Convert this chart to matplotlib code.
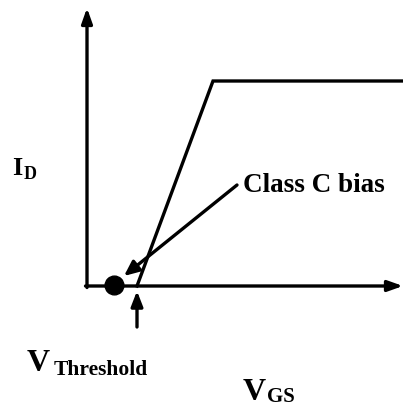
import matplotlib
matplotlib.use("Agg")
import matplotlib.pyplot as plt

# Data (diagram units: origin at axes corner)
vgs = [50, 126, 316]          # transfer curve V_GS points
i_d = [0, 205, 205]           # transfer curve I_D points
bias_point = (27, 1)          # class C bias dot
label_class_c = "Class C bias"
label_id = ("I", "D")
label_vth = ("V", "Threshold")
label_vgs = ("V", "GS")

fig = plt.figure(figsize=(4.03, 4.11), dpi=100)
ax = fig.add_axes([0, 0, 1, 1])
ax.set_xlim(-87, 316)
ax.set_ylim(-125, 286)
ax.axis("off")

lw = 2.4
# axes with arrows
ax.annotate("", xy=(0, 278), xytext=(0, -1.5),
            arrowprops=dict(arrowstyle="-|>,head_length=0.9,head_width=0.32", lw=lw, color="black",
                            shrinkA=0, shrinkB=0))
ax.annotate("", xy=(316, 0), xytext=(-1.5, 0),
            arrowprops=dict(arrowstyle="-|>,head_length=0.9,head_width=0.32", lw=lw, color="black",
                            shrinkA=0, shrinkB=0))

# transfer curve
ax.plot(vgs, i_d, color="black", lw=lw, solid_joinstyle="miter")

# bias dot
ax.plot([bias_point[0]], [bias_point[1]], "o", color="black", ms=13.5)

# Class C bias arrow
ax.annotate("", xy=(37, 10), xytext=(150, 101),
            arrowprops=dict(arrowstyle="-|>,head_length=0.9,head_width=0.4", lw=lw, color="black",
                            shrinkA=0, shrinkB=0))

# threshold arrow
ax.annotate("", xy=(50, -5), xytext=(50, -41),
            arrowprops=dict(arrowstyle="-|>,head_length=0.9,head_width=0.35", lw=lw, color="black",
                            shrinkA=0, shrinkB=0))

font = dict(family="Liberation Serif", weight="bold", color="black")

ax.text(156, 100, label_class_c, fontsize=19.5, va="center", ha="left", **font)

ax.text(-75, 111, label_id[0], fontsize=19, va="baseline", ha="left", **font)
ax.text(-63, 107, label_id[1], fontsize=13, va="baseline", ha="left", **font)

ax.text(-60, -85, label_vth[0], fontsize=23, va="baseline", ha="left", **font)
ax.text(-33, -89, label_vth[1], fontsize=15.5, va="baseline", ha="left", **font)

ax.text(156, -114, label_vgs[0], fontsize=23, va="baseline", ha="left", **font)
ax.text(180, -116, label_vgs[1], fontsize=15, va="baseline", ha="left", **font)

fig.savefig("out.png", dpi=100)
